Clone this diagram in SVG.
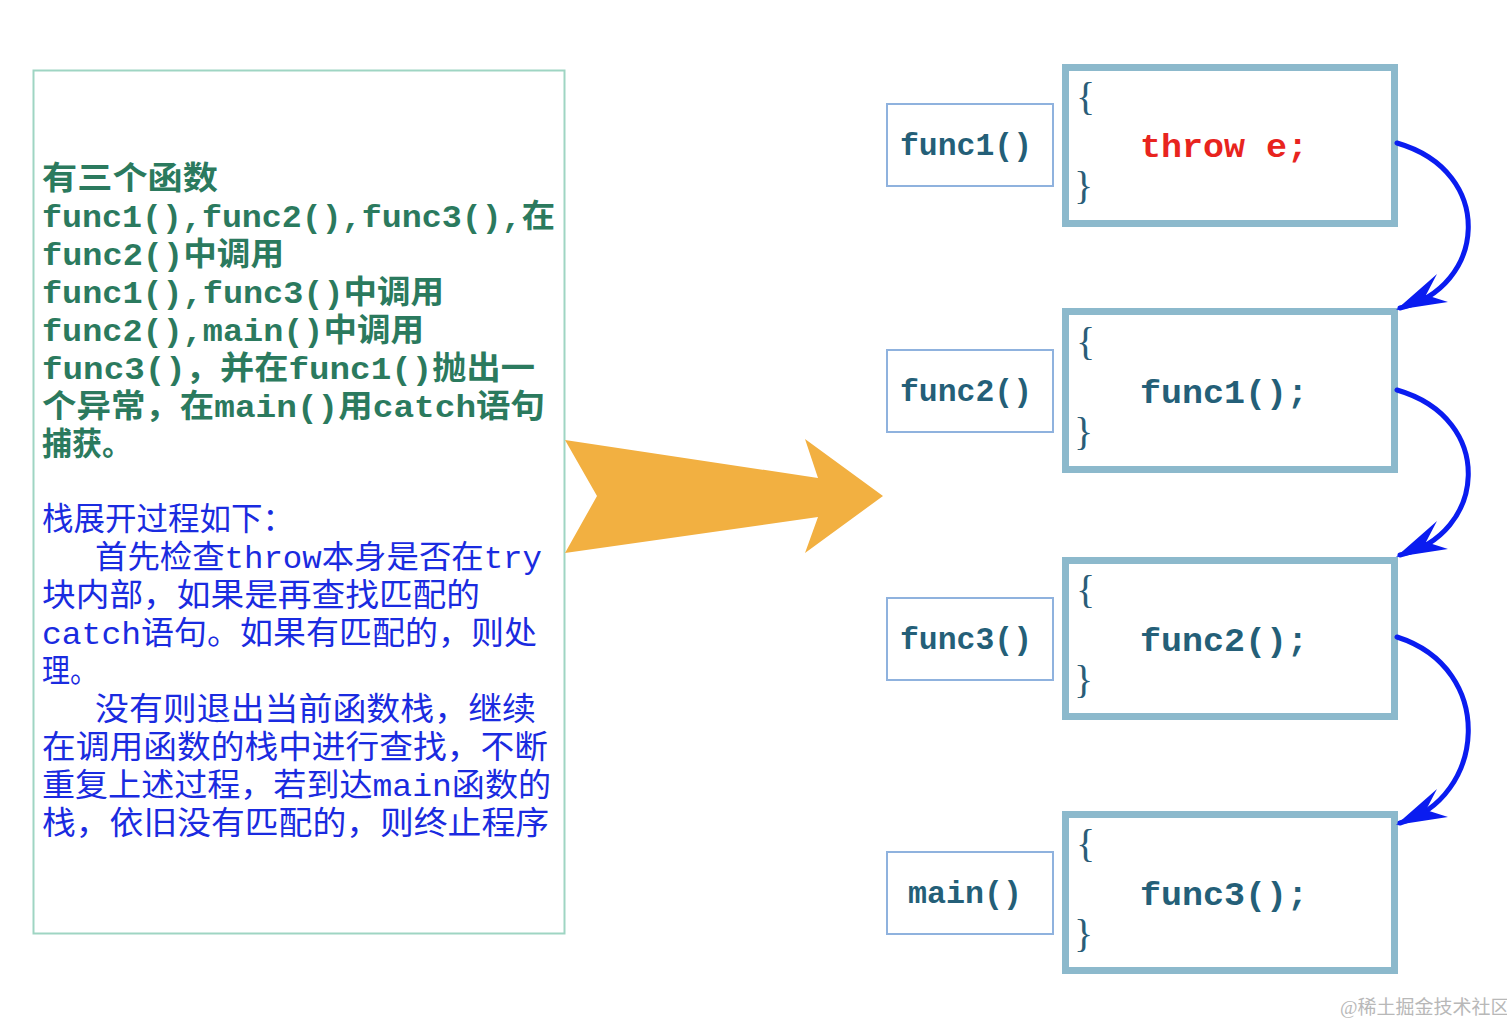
<svg xmlns="http://www.w3.org/2000/svg" width="1507" height="1024" viewBox="0 0 1507 1024">
<style>
.bg{fill:#ffffff}
.note{fill:#ffffff;stroke:#9fd5c3;stroke-width:2}
.g{font-family:"Liberation Mono","Noto Sans CJK SC",monospace;font-size:32px;font-weight:bold;fill:#2b7a5e}
.b{font-family:"Liberation Mono","Noto Sans CJK SC",monospace;font-size:32px;fill:#1a2be0}
.lbl{fill:#ffffff;stroke:#8fb2de;stroke-width:2}
.code{fill:#ffffff;stroke:#8cb9cc;stroke-width:7}
.lt{font-family:"Liberation Mono",monospace;font-size:32px;font-weight:bold;fill:#245f78}
.br{font-family:"Liberation Serif",serif;font-size:40px;fill:#2a5d78}
.ct{font-family:"Liberation Mono",monospace;font-size:34px;font-weight:bold;fill:#245f78}
.red{fill:#e8241e}
.curve{fill:none;stroke:#0a1cf0;stroke-width:5;stroke-linecap:round}
.ah{fill:#0a1cf0}
.wm{font-family:"Liberation Serif","Noto Sans CJK SC",serif;font-size:19px;fill:#b8b8b8}
</style>
<defs>
<path id="ah" d="M0,0 L41,-36 L30,-15 L52,-8 Z"/>
</defs>
<rect class="bg" x="0" y="0" width="1507" height="1024"/>

<g id="note">
<rect class="note" x="33.5" y="70.5" width="531" height="863"/>
<text class="g" x="42" y="189" textLength="176" lengthAdjust="spacingAndGlyphs">有三个函数</text>
<text class="g" x="42" y="227" textLength="513" lengthAdjust="spacingAndGlyphs">func1(),func2(),func3(),在</text>
<text class="g" x="42" y="265" textLength="242" lengthAdjust="spacingAndGlyphs">func2()中调用</text>
<text class="g" x="42" y="303" textLength="402" lengthAdjust="spacingAndGlyphs">func1(),func3()中调用</text>
<text class="g" x="42" y="341" textLength="382" lengthAdjust="spacingAndGlyphs">func2(),main()中调用</text>
<text class="g" x="42" y="379" textLength="493" lengthAdjust="spacingAndGlyphs">func3()，并在func1()抛出一</text>
<text class="g" x="42" y="417" textLength="503" lengthAdjust="spacingAndGlyphs">个异常，在main()用catch语句</text>
<text class="g" x="42" y="455" textLength="90" lengthAdjust="spacingAndGlyphs">捕获。</text>
<text class="b" x="42" y="530" textLength="252" lengthAdjust="spacingAndGlyphs">栈展开过程如下：</text>
<text class="b" x="95" y="568" textLength="447" lengthAdjust="spacingAndGlyphs">首先检查throw本身是否在try</text>
<text class="b" x="42" y="606" textLength="438" lengthAdjust="spacingAndGlyphs">块内部，如果是再查找匹配的</text>
<text class="b" x="42" y="644" textLength="495" lengthAdjust="spacingAndGlyphs">catch语句。如果有匹配的，则处</text>
<text class="b" x="42" y="682" textLength="56" lengthAdjust="spacingAndGlyphs">理。</text>
<text class="b" x="95" y="720" textLength="441" lengthAdjust="spacingAndGlyphs">没有则退出当前函数栈，继续</text>
<text class="b" x="42" y="758" textLength="506" lengthAdjust="spacingAndGlyphs">在调用函数的栈中进行查找，不断</text>
<text class="b" x="42" y="796" textLength="509" lengthAdjust="spacingAndGlyphs">重复上述过程，若到达main函数的</text>
<text class="b" x="42" y="834" textLength="507" lengthAdjust="spacingAndGlyphs">栈，依旧没有匹配的，则终止程序</text>
</g>

<g id="big-arrow">
<polygon points="565,440 818,478 805,439 883,496 805,553 818,517 565,553 597,496" fill="#f2b041"/>
</g>

<g id="label-func1">
<rect class="lbl" x="887" y="104" width="166" height="82"/>
<text class="lt" x="900" y="155" textLength="132" lengthAdjust="spacingAndGlyphs">func1()</text>
</g>
<g id="label-func2">
<rect class="lbl" x="887" y="350" width="166" height="82"/>
<text class="lt" x="900" y="401" textLength="132" lengthAdjust="spacingAndGlyphs">func2()</text>
</g>
<g id="label-func3">
<rect class="lbl" x="887" y="598" width="166" height="82"/>
<text class="lt" x="900" y="649" textLength="132" lengthAdjust="spacingAndGlyphs">func3()</text>
</g>
<g id="label-main">
<rect class="lbl" x="887" y="852" width="166" height="82"/>
<text class="lt" x="908" y="903" textLength="114" lengthAdjust="spacingAndGlyphs">main()</text>
</g>

<g id="code-func1">
<rect class="code" x="1065.5" y="67.5" width="329" height="156"/>
<text class="br" x="1076" y="110">{</text>
<text class="br" x="1074" y="199">}</text>
<text class="ct red" x="1140" y="157" textLength="168" lengthAdjust="spacingAndGlyphs">throw e;</text>
</g>
<g id="code-func2">
<rect class="code" x="1065.5" y="311.5" width="329" height="158"/>
<text class="br" x="1076" y="355">{</text>
<text class="br" x="1074" y="445">}</text>
<text class="ct" x="1140" y="403" textLength="168" lengthAdjust="spacingAndGlyphs">func1();</text>
</g>
<g id="code-func3">
<rect class="code" x="1065.5" y="560.5" width="329" height="156"/>
<text class="br" x="1076" y="603">{</text>
<text class="br" x="1074" y="693">}</text>
<text class="ct" x="1140" y="651" textLength="168" lengthAdjust="spacingAndGlyphs">func2();</text>
</g>
<g id="code-main">
<rect class="code" x="1065.5" y="814.5" width="329" height="156"/>
<text class="br" x="1076" y="857">{</text>
<text class="br" x="1074" y="947">}</text>
<text class="ct" x="1140" y="905" textLength="168" lengthAdjust="spacingAndGlyphs">func3();</text>
</g>

<g id="connectors">
<path class="curve" d="M1397,143 C1497,172 1486,288 1400,308"/>
<use href="#ah" class="ah" x="1396" y="310"/>
<path class="curve" d="M1397,390 C1497,419 1486,535 1400,555"/>
<use href="#ah" class="ah" x="1396" y="557"/>
<path class="curve" d="M1397,637 C1497,669 1486,798 1400,823"/>
<use href="#ah" class="ah" x="1396" y="825"/>
</g>

<text class="wm" x="1340" y="1014">@稀土掘金技术社区</text>
</svg>
